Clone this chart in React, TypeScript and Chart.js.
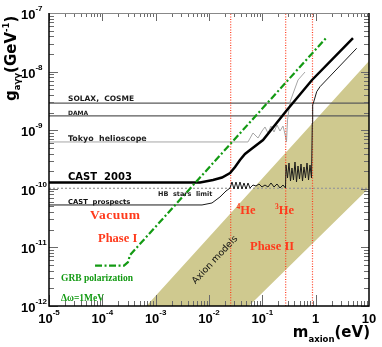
import React, { useEffect, useRef } from 'react';
import { Chart, registerables } from 'chart.js';
Chart.register(...registerables);

// ---- axis ranges / ticks ----
const X_MIN = 1e-5;
const X_MAX = 10;
const Y_MIN = 1e-12;
const Y_MAX = 1e-7;
const xDecades = [-5, -4, -3, -2, -1, 0, 1];
const xTickBase = ['10', '10', '10', '10', '10', '1', '10'];
const xTickExp = ['-5', '-4', '-3', '-2', '-1', '', ''];
const yDecades = [-12, -11, -10, -9, -8, -7];
const yTickBase = ['10', '10', '10', '10', '10', '10'];
const yTickExp = ['-12', '-11', '-10', '-9', '-8', '-7'];

// ---- data (m_axion [eV], g [GeV^-1]) ----
const bandX = [6.7e-4, 10, 10, 0.056, 6.7e-4];
const bandY = [1e-12, 1.52e-8, 1.03e-10, 1e-12, 1e-12];

const solaxX = [1e-5, 10];
const solaxY = [2.9e-9, 2.9e-9];
const damaX = [1e-5, 10];
const damaY = [1.75e-9, 1.75e-9];
const hbX = [1e-5, 10];
const hbY = [1.02e-10, 1.02e-10];

const tokyoX = [1e-5, 0.0538, 0.0668, 0.083, 0.0986, 0.1122, 0.1276, 0.1454, 0.1656, 0.1884, 0.2143, 0.244, 0.266, 0.284, 0.2965, 0.3304, 0.4667, 0.631];
const tokyoY = [6.3e-10, 6.3e-10, 8.96e-10, 7.36e-10, 9.68e-10, 1.135e-9, 8.96e-10, 1.18e-9, 9.31e-10, 1.227e-9, 9.68e-10, 1.18e-9, 8.61e-10, 6.29e-10, 1.49e-9, 3.03e-9, 7.19e-9, 9.84e-9];

const cast2003X = [1e-5, 6.8e-3, 0.0119, 0.01754, 0.0248, 0.0308, 0.0381, 0.0473, 0.064, 0.103, 0.29, 0.854, 5.01];
const cast2003Y = [1.28e-10, 1.28e-10, 1.41e-10, 1.56e-10, 1.86e-10, 2.36e-10, 3.1e-10, 3.93e-10, 4.88e-10, 6.81e-10, 2.21e-9, 7.19e-9, 3.74e-8];

const prospX = [
  1e-5, 7.4e-3, 0.01138, 0.01607, 0.02084, 0.0248,
  0.02698, 0.02943, 0.03206, 0.03499, 0.03811, 0.04159, 0.04529, 0.04943, 0.05383, 0.05875,
  0.06683, 0.07603, 0.0866, 0.09863, 0.1122, 0.1276, 0.1454, 0.1656, 0.1884, 0.2143, 0.244, 0.2716,
  0.278, 0.2965, 0.3162, 0.3373, 0.3597, 0.3837, 0.4097, 0.4375, 0.4667, 0.4977,
  0.5309, 0.5662, 0.6039, 0.6442, 0.6879, 0.7345, 0.7834, 0.8356,
  0.865, 0.879, 0.9419, 1.045, 1.205, 5.875,
];
const prospY = [
  5.3e-11, 5.3e-11, 5.73e-11, 7.25e-11, 9.17e-11, 1.03e-10,
  1.306e-10, 9.92e-11, 1.306e-10, 9.92e-11, 1.306e-10, 9.92e-11, 1.256e-10, 9.92e-11, 1.256e-10, 1.032e-10,
  1.161e-10, 1.116e-10, 1.208e-10, 1.073e-10, 1.161e-10, 1.073e-10, 1.256e-10, 1.073e-10, 1.208e-10, 1.032e-10, 1.161e-10, 1.032e-10,
  2.547e-10, 1.528e-10, 2.754e-10, 1.359e-10, 2.265e-10, 1.413e-10, 2.865e-10, 1.306e-10, 2.449e-10, 1.469e-10,
  2.649e-10, 1.359e-10, 2.355e-10, 1.528e-10, 2.754e-10, 1.413e-10, 2.547e-10, 1.528e-10,
  1.327e-9, 2.69e-9, 3.27e-9, 4.54e-9, 5.52e-9, 2.5e-8,
];

const grbX = [7.3e-5, 2.55e-4, 3.03e-4, 3.3e-4, 1.61];
const grbY = [4.9e-12, 4.9e-12, 5.6e-12, 7.4e-12, 3.85e-8];

const heliumLinesX = [0.0255, 0.274, 0.872];

// ---- styles ----
const RED = '#ff3a1c';
const GREEN = '#139a13';
const SANS = "'DejaVu Sans'";
const ARIAL = "'Liberation Sans'";
const SERIF = "'Liberation Serif'";

type Lbl = { t: string; x: number; y: number; font: string; color: string; sp?: number };
const LABELS: Lbl[] = [
  { t: 'SOLAX,  COSME', x: 68, y: 101, font: `bold 7.5px ${SANS}`, color: '#1a1a1a' },
  { t: 'DAMA', x: 68, y: 114.5, font: `bold 6px ${SANS}`, color: '#1a1a1a' },
  { t: 'Tokyo  helioscope', x: 68, y: 140.5, font: `bold 7.9px ${SANS}`, color: '#222' },
  { t: 'CAST  2003', x: 68, y: 179.5, font: `bold 10px ${SANS}`, color: '#000' },
  { t: 'HB  stars  limit', x: 158, y: 196, font: `bold 6.5px ${SANS}`, color: '#222' },
  { t: 'CAST  prospects', x: 68, y: 203.5, font: `bold 6.8px ${SANS}`, color: '#111' },
  { t: 'Vacuum', x: 90, y: 218.5, font: `bold 13.5px ${SERIF}`, color: RED, sp: 0.5 },
  { t: 'Phase I', x: 98, y: 241.5, font: `bold 12.5px ${SERIF}`, color: RED },
  { t: 'Phase II', x: 250, y: 250, font: `bold 12.5px ${SERIF}`, color: RED },
  { t: 'GRB polarization', x: 61, y: 280.5, font: `bold 9.5px ${SERIF}`, color: GREEN },
  { t: 'Δω=1MeV', x: 61, y: 300.5, font: `bold 9.5px ${SERIF}`, color: GREEN },
];

type Run = { t: string; font: string; dy?: number };

function drawRuns(ctx: CanvasRenderingContext2D, runs: Run[], x: number, y: number, align: 'left' | 'center' | 'right') {
  const widths = runs.map((r) => {
    ctx.font = r.font;
    return ctx.measureText(r.t).width;
  });
  const total = widths.reduce((s, w) => s + w, 0);
  let cx = align === 'center' ? x - total / 2 : align === 'right' ? x - total : x;
  ctx.textAlign = 'left';
  runs.forEach((r, i) => {
    ctx.font = r.font;
    ctx.fillText(r.t, cx, y + (r.dy || 0));
    cx += widths[i];
  });
}

const framePlugin = {
  id: 'frameAndText',
  afterDraw(chart: any) {
    const { ctx, chartArea: a } = chart;
    const xs = chart.scales.x;
    const ys = chart.scales.y;
    ctx.save();
    (ctx as any).letterSpacing = '0px';

    // ticks
    ctx.strokeStyle = '#6a6a6a';
    ctx.lineWidth = 1;
    ctx.beginPath();
    for (let e = -5; e <= 0; e++) {
      for (let k = 1; k <= 9; k++) {
        const v = k * Math.pow(10, e);
        const px = Math.round(xs.getPixelForValue(v)) + 0.5;
        const major = k === 1;
        ctx.moveTo(px, a.bottom);
        ctx.lineTo(px, a.bottom - (major ? 11 : 5));
        ctx.moveTo(px, a.top);
        ctx.lineTo(px, a.top + (major ? 8 : 4));
      }
    }
    for (let e = -12; e <= -8; e++) {
      for (let k = 1; k <= 9; k++) {
        const v = k * Math.pow(10, e);
        const py = Math.round(ys.getPixelForValue(v)) + 0.5;
        const major = k === 1;
        ctx.moveTo(a.left, py);
        ctx.lineTo(a.left + (major ? 9 : 5), py);
        ctx.moveTo(a.right, py);
        ctx.lineTo(a.right - (major ? 8 : 5), py);
      }
    }
    ctx.stroke();

    // frame
    ctx.strokeStyle = '#888';
    ctx.lineWidth = 1;
    ctx.beginPath();
    ctx.moveTo(a.left, a.top + 0.5);
    ctx.lineTo(a.right, a.top + 0.5);
    ctx.stroke();
    ctx.strokeStyle = '#000';
    ctx.lineWidth = 1.5;
    ctx.beginPath();
    ctx.moveTo(a.left, a.top);
    ctx.lineTo(a.left, a.bottom);
    ctx.lineTo(a.right, a.bottom);
    ctx.lineTo(a.right, a.top);
    ctx.stroke();

    // tick labels
    ctx.fillStyle = '#000';
    ctx.textBaseline = 'alphabetic';
    xDecades.forEach((e, i) => {
      const px = xs.getPixelForValue(Math.pow(10, e));
      const runs: Run[] = [{ t: xTickBase[i], font: `bold 13px ${ARIAL}` }];
      if (xTickExp[i]) runs.push({ t: xTickExp[i], font: `bold 8px ${ARIAL}`, dy: -8 });
      drawRuns(ctx, runs, px, 323, 'center');
    });
    yDecades.forEach((e, i) => {
      const py = ys.getPixelForValue(Math.pow(10, e));
      drawRuns(ctx, [
        { t: yTickBase[i], font: `bold 13px ${ARIAL}` },
        { t: yTickExp[i], font: `bold 8px ${ARIAL}`, dy: -8 },
      ], 21, py + 6, 'left');
    });

    // axis titles
    drawRuns(ctx, [
      { t: 'm', font: `bold 15px ${SANS}` },
      { t: 'axion', font: `bold 8.5px ${SANS}`, dy: 4.5 },
      { t: '(eV)', font: `bold 15px ${SANS}` },
    ], 370, 337, 'right');
    ctx.save();
    ctx.translate(15.5, 101);
    ctx.rotate(-Math.PI / 2);
    drawRuns(ctx, [
      { t: 'g', font: `bold 15px ${SANS}` },
      { t: 'aγγ', font: `bold 8.5px ${SANS}`, dy: 4.5 },
      { t: '(GeV', font: `bold 15px ${SANS}` },
      { t: '-1', font: `bold 8.5px ${SANS}`, dy: -7 },
      { t: ')', font: `bold 15px ${SANS}` },
    ], 0, 0, 'left');
    ctx.restore();

    // annotations
    LABELS.forEach((l) => {
      ctx.fillStyle = l.color;
      (ctx as any).letterSpacing = `${l.sp || 0}px`;
      ctx.font = l.font;
      ctx.textAlign = 'left';
      ctx.fillText(l.t, l.x, l.y);
    });
    (ctx as any).letterSpacing = '0px';
    ctx.fillStyle = RED;
    drawRuns(ctx, [
      { t: '4', font: `bold 7.5px ${SERIF}`, dy: -4.5 },
      { t: 'He', font: `bold 12.5px ${SERIF}` },
    ], 236.5, 213.5, 'left');
    drawRuns(ctx, [
      { t: '3', font: `bold 7.5px ${SERIF}`, dy: -4.5 },
      { t: 'He', font: `bold 12.5px ${SERIF}` },
    ], 275, 213.5, 'left');

    ctx.save();
    ctx.translate(215, 260);
    ctx.rotate((-47 * Math.PI) / 180);
    ctx.fillStyle = '#111';
    ctx.font = `9.2px ${SANS}`;
    ctx.textAlign = 'center';
    ctx.textBaseline = 'middle';
    ctx.fillText('Axion models', 0, 0);
    ctx.restore();

    ctx.restore();
  },
};

const pts = (xs: number[], ys: number[]) => xs.map((x, i) => ({ x, y: ys[i] }));

const line = (data: any[], color: string, width: number, extra: any = {}) => ({
  data,
  showLine: true,
  borderColor: color,
  borderWidth: width,
  pointRadius: 0,
  fill: false,
  tension: 0,
  ...extra,
});

export default function App() {
  const ref = useRef<HTMLCanvasElement | null>(null);
  useEffect(() => {
    if (!ref.current) return;
    const datasets: any[] = [
      line(pts(bandX, bandY), 'rgba(0,0,0,0)', 0, { fill: 'shape', backgroundColor: 'rgb(207,201,143)', order: 100 }),
      line(pts(solaxX, solaxY), '#5a5a5a', 1.2, { order: 50 }),
      line(pts(damaX, damaY), '#5a5a5a', 1.2, { order: 50 }),
      line(pts(hbX, hbY), '#999', 1.2, { borderDash: [2, 2], order: 50 }),
      line(pts(tokyoX, tokyoY), '#a6a6a6', 1, { order: 40 }),
      ...heliumLinesX.map((hx) => line(pts([hx, hx], [Y_MIN, Y_MAX]), RED, 1.2, { borderDash: [1, 1.6], order: 30 })),
      line(pts(prospX, prospY), '#1a1a1a', 1, { order: 20 }),
      line(pts(cast2003X, cast2003Y), '#000', 2.5, { order: 10 }),
      line(pts(grbX, grbY), GREEN, 2.2, { borderDash: [7, 2.5, 2, 2.5], order: 5 }),
    ];
    const chart = new Chart(ref.current, {
      type: 'scatter',
      data: { datasets },
      options: {
        animation: false,
        responsive: false,
        devicePixelRatio: 1,
        layout: { padding: { left: 49, right: 13, top: 13, bottom: 41 } },
        scales: {
          x: { type: 'logarithmic', min: X_MIN, max: X_MAX, display: false },
          y: { type: 'logarithmic', min: Y_MIN, max: Y_MAX, display: false },
        },
        plugins: { legend: { display: false }, tooltip: { enabled: false } },
      },
      plugins: [framePlugin],
    } as any);
    return () => chart.destroy();
  }, []);
  return (
    <div style={{ position: 'absolute', left: 0, top: 0, width: 382, height: 347, background: '#fff' }}>
      <canvas ref={ref} width={382} height={347} style={{ width: 382, height: 347, display: 'block' }} />
    </div>
  );
}
